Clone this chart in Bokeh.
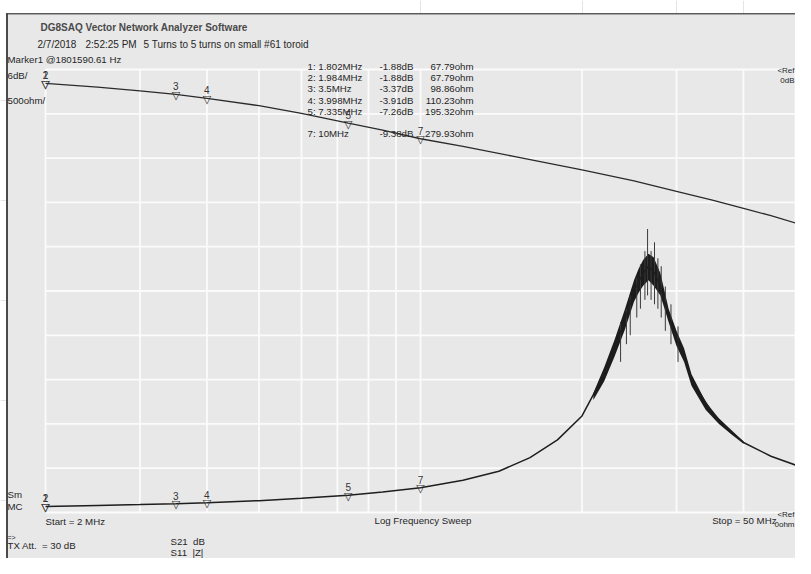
import numpy as np
from bokeh.plotting import figure
from bokeh.models import Range1d, LinearScale
from bokeh.core.properties import value
from bokeh.embed import file_html
from bokeh.resources import INLINE

# ---------------- data ----------------
marker_ids = [1, 2, 3, 4, 5, 7]
marker_freq_mhz = [1.802, 1.984, 3.5, 3.998, 7.335, 10.0]
marker_freq_text = ["1.802MHz", "1.984MHz", "3.5MHz", "3.998MHz", "7.335MHz", "10MHz"]
marker_s21_db = [-1.88, -1.88, -3.37, -3.91, -7.26, -9.38]
marker_z_ohm = [67.79, 67.79, 98.86, 110.23, 195.32, 279.93]

# S21 (dB) trace
s21_freq_mhz = [2.0, 2.5, 3.0, 3.5, 4.0, 5.0, 6.0, 7.335, 8.5, 10.0, 12.0, 15.0,
                20.0, 25.0, 30.0, 35.0, 40.0, 45.0, 50.0]
s21_db = [-1.88, -2.4, -2.9, -3.37, -3.91, -4.9, -5.95, -7.26, -8.2, -9.38, -10.4,
          -11.8, -13.6, -15.1, -16.5, -17.7, -18.8, -19.8, -20.8]

# S11 |Z| (ohm) trace
z_freq_mhz = [2.0, 2.5, 3.0, 3.5, 4.0, 5.0, 6.0, 7.335, 8.5, 10.0, 12.0, 14.0, 16.0,
              18.0, 20.0, 22.0, 23.0, 24.0, 25.0, 26.0, 26.6, 27.2, 28.0, 29.0, 30.0,
              31.0, 32.0, 35.0, 40.0, 45.0, 50.0]
z_ohm = [68, 80, 90, 99, 110, 134, 160, 195, 232, 280, 365, 465, 620, 820, 1090, 1560,
         1850, 2160, 2500, 2700, 2780, 2720, 2560, 2220, 1960, 1770, 1500, 1120, 790,
         635, 535]

# noisy band around the resonance (ohm)
band_freq_mhz = [21.0, 22.0, 23.0, 24.0, 25.0, 25.5, 26.0, 26.6, 27.2, 28.0, 28.5,
                 29.0, 30.0, 31.0, 32.0, 34.0, 36.0, 38.0, 40.0]
band_lo_ohm = [1270, 1480, 1760, 2050, 2380, 2480, 2560, 2620, 2560, 2450, 2300,
               2150, 1880, 1700, 1430, 1160, 1000, 880, 775]
band_hi_ohm = [1350, 1640, 1950, 2280, 2620, 2750, 2850, 2920, 2880, 2700, 2500,
               2300, 2050, 1850, 1560, 1250, 1060, 920, 805]

# single spikes of the noisy region (ohm)
spike_freq_mhz = [23.6, 24.2, 24.6, 25.3, 25.7, 26.2, 26.5, 26.9, 27.3, 27.7, 28.1,
                  28.6, 29.3, 30.2]
spike_lo_ohm = [1700, 1900, 2000, 2200, 2300, 2400, 2450, 2400, 2350, 2300, 2200,
                2050, 1900, 1700]
spike_hi_ohm = [2150, 2300, 2450, 2650, 2800, 2950, 3200, 2950, 3050, 2870, 2780,
                2550, 2350, 2100]

start_mhz, stop_mhz = 2.0, 50.0
db_per_div, ohm_per_div, n_div = 6, 500, 10
freq_grid_mhz = [2, 3, 4, 5, 6, 7, 8, 9, 10, 20, 30, 40, 50]

# ---------------- layout ----------------
W, H = 795, 558
PX0, PX1 = 45, 795        # 2 MHz and 50 MHz
PY0, PY1 = 69, 512        # top and bottom grid line
div_px = (PY1 - PY0) / n_div
decade_px = (PX1 - PX0) / np.log10(stop_mhz / start_mhz)
x_lo = 10 ** (np.log10(start_mhz) - PX0 / decade_px)
x_hi = 10 ** (np.log10(stop_mhz) + (W - PX1) / decade_px)

p = figure(width=W, height=H, x_axis_type="log", x_range=Range1d(x_lo, x_hi),
           y_range=Range1d(H, 0), x_axis_location=None, y_axis_location=None,
           toolbar_location=None, output_backend="svg", title=None,
           min_border=0, outline_line_color=None,
           background_fill_color="white", border_fill_color="white")
p.extra_x_ranges = {"px": Range1d(0, W)}
p.extra_x_scales = {"px": LinearScale()}
p.extra_y_ranges = {
    "db": Range1d(-(H - PY0) / div_px * db_per_div, PY0 / div_px * db_per_div),
    "ohm": Range1d(-(H - PY1) / div_px * ohm_per_div, PY1 / div_px * ohm_per_div),
}

TXT = "#262626"
FONT = value("Liberation Sans")
FS = "9.7px"

# window background and frame lines
p.quad(left=7, right=W, top=14, bottom=H, x_range_name="px",
       fill_color="#e8e8e8", line_color=None)
p.quad(left=5.5, right=W, top=12.5, bottom=14, x_range_name="px",
       fill_color="#5a5a5a", line_color=None)
p.quad(left=5.5, right=7.5, top=12.5, bottom=H, x_range_name="px",
       fill_color="#4a4a4a", line_color=None)

# grid
GRID = "#fbfbfb"
p.segment(x0=freq_grid_mhz, x1=freq_grid_mhz, y0=[PY0] * len(freq_grid_mhz),
          y1=[PY1] * len(freq_grid_mhz), line_color=GRID, line_width=1.8)
db_levels = [-db_per_div * i for i in range(n_div + 1)]
p.segment(x0=[start_mhz] * len(db_levels), x1=[stop_mhz] * len(db_levels),
          y0=db_levels, y1=db_levels, y_range_name="db",
          line_color=GRID, line_width=1.8)

# traces
p.line(s21_freq_mhz, s21_db, y_range_name="db", line_color="#2b2b2b", line_width=1.3)
p.varea(x=band_freq_mhz, y1=band_lo_ohm, y2=band_hi_ohm, y_range_name="ohm",
        fill_color="#1c1c1c")
p.segment(x0=spike_freq_mhz, x1=spike_freq_mhz, y0=spike_lo_ohm, y1=spike_hi_ohm,
          y_range_name="ohm", line_color="#3a3a3a", line_width=1)
p.line(z_freq_mhz, z_ohm, y_range_name="ohm", line_color="#1e1e1e", line_width=1.5)

# markers on both traces
mx = [max(f, start_mhz) for f in marker_freq_mhz]
mlabels = [str(i) for i in marker_ids]
for yv, rng in ((marker_s21_db, "db"), (marker_z_ohm, "ohm")):
    p.text(x=mx, y=yv, text=["\u25bd"] * len(mx), y_range_name=rng,
           text_font=value("DejaVu Sans"), text_font_size="11px",
           text_align="center", text_baseline="alphabetic", y_offset=1,
           text_color="#333333")
    p.text(x=mx, y=yv, text=mlabels, y_range_name=rng, text_font=FONT,
           text_font_size="10px", text_align="center", text_baseline="alphabetic",
           y_offset=-8, text_color="#333333")

# marker table
row_y = [66 + (i - 1) * 11.2 for i in marker_ids]
p.text(x=[307] * len(marker_ids), y=row_y,
       text=[f"{i}: {t}" for i, t in zip(marker_ids, marker_freq_text)],
       x_range_name="px", text_font=FONT, text_font_size=FS,
       text_baseline="middle", text_color=TXT)
p.text(x=[379] * len(marker_ids), y=row_y,
       text=[f"{d:.2f}dB" for d in marker_s21_db],
       x_range_name="px", text_font=FONT, text_font_size=FS,
       text_baseline="middle", text_color=TXT)
p.text(x=[473] * len(marker_ids), y=row_y,
       text=[f"{z:.2f}ohm" for z in marker_z_ohm],
       x_range_name="px", text_font=FONT, text_font_size=FS,
       text_align="right", text_baseline="middle", text_color=TXT)

# title texts
p.text(x=[40], y=[27], text=["DG8SAQ Vector Network Analyzer Software"],
       x_range_name="px", text_font=FONT, text_font_size="10px",
       text_font_style="bold", text_baseline="middle", text_color="#4a4a4a")
info_x = [37, 85, 143]
info_t = ["2/7/2018", "2:52:25 PM", "5 Turns to 5 turns on small #61 toroid"]
p.text(x=info_x, y=[44] * 3, text=info_t, x_range_name="px", text_font=FONT,
       text_font_size="10px", text_baseline="middle", text_color=TXT)

side_y = [59, 75, 100, 494, 506]
side_t = ["Marker1 @1801590.61 Hz", "6dB/", "500ohm/", "Sm", "MC"]
p.text(x=[7] * len(side_t), y=side_y, text=side_t, x_range_name="px", text_font=FONT,
       text_font_size=FS, text_baseline="middle", text_color=TXT)

# right reference labels (squeezed into the right edge)
p.text(x=[W - 1] * 4, y=[70, 80, 514, 524],
       text=["<Ref", "0dB", "<Ref", "0ohm"], x_range_name="px", text_font=FONT,
       text_font_size="8px", text_align="right", text_baseline="middle",
       text_color=TXT)

# bottom labels
bot_x = [45, 374, 776, 7, 7, 170, 170]
bot_y = [521, 520, 520, 537, 545, 541, 552]
bot_t = ["Start = 2 MHz", "Log Frequency Sweep", "Stop = 50 MHz", "=>",
         "TX Att.\u00a0\u00a0= 30 dB", "S21\u00a0\u00a0dB", "S11\u00a0\u00a0|Z|"]
bot_a = ["left", "left", "right", "left", "left", "left", "left"]
bot_s = [FS, FS, FS, "7px", FS, FS, FS]
p.text(x=bot_x, y=bot_y, text=bot_t, text_font_size=bot_s, text_align=bot_a,
       x_range_name="px", text_font=FONT, text_baseline="middle", text_color=TXT)

open("out.html", "w").write(file_html(p, INLINE))
